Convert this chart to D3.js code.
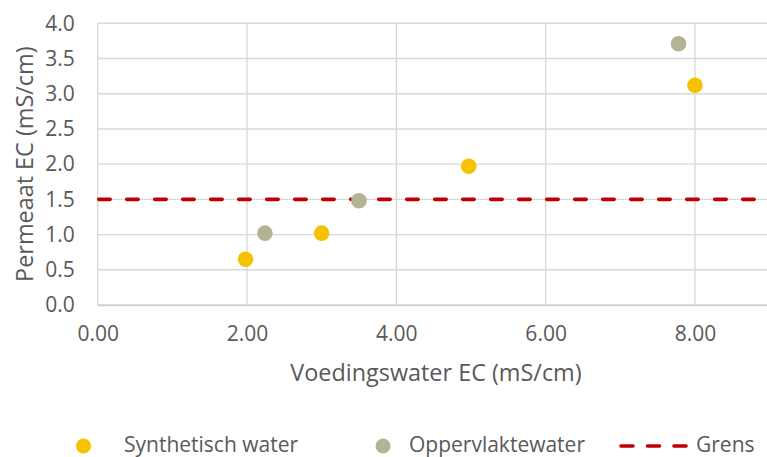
<!DOCTYPE html>
<html>
<head>
<meta charset="utf-8">
<script src="https://cdn.jsdelivr.net/npm/d3@7"></script>
<style>
  body { margin: 0; background: #fff; }
  text { font-family: "Open Sans", sans-serif; fill: #595959; }
</style>
</head>
<body>
<div id="chart"></div>
<script>
// data
var synthX = [1.98, 3.00, 4.97, 8.00],
    synthY = [0.65, 1.02, 1.97, 3.12];
var surfX = [2.24, 3.50, 7.78],
    surfY = [1.02, 1.48, 3.71];
var grensX = [0, 9],
    grensY = [1.5, 1.5];
var xTicks = [0, 2, 4, 6, 8],
    yTicks = [0, 0.5, 1, 1.5, 2, 2.5, 3, 3.5, 4];
var seriesNames = ["Synthetisch water", "Oppervlaktewater", "Grens"];

var width = 767, height = 457,
    margin = { top: 23.3, right: -2.6, bottom: 152, left: 97.7 };

var svg = d3.select("#chart").append("svg")
    .attr("width", width)
    .attr("height", height);

var x = d3.scaleLinear().domain([0, 9]).range([margin.left, width - margin.right]),
    y = d3.scaleLinear().domain([0, 4]).range([height - margin.bottom, margin.top]);

var yellow = "#F6C200", grey = "#B4B494", red = "#C00000";

// gridlines
svg.append("g").selectAll("line").data(yTicks).enter().append("line")
    .attr("x1", x(0)).attr("x2", x(9))
    .attr("y1", d => y(d)).attr("y2", d => y(d))
    .attr("stroke", "#d9d9d9").attr("stroke-width", 1.4);

svg.append("g").selectAll("line").data(xTicks).enter().append("line")
    .attr("x1", d => x(d)).attr("x2", d => x(d))
    .attr("y1", y(0)).attr("y2", y(4))
    .attr("stroke", "#d9d9d9").attr("stroke-width", 1.4);

// axes (labels only)
var xAxis = svg.append("g")
    .attr("transform", "translate(0," + y(0) + ")")
    .call(d3.axisBottom(x).tickValues(xTicks).tickFormat(d3.format(".2f")).tickSize(0).tickPadding(21));
xAxis.select(".domain").attr("stroke", "#d0d0d0").attr("stroke-width", 1.6);
xAxis.selectAll("text").style("font-size", "21px").attr("fill", "#595959");

var yAxis = svg.append("g")
    .attr("transform", "translate(" + x(0) + ",0)")
    .call(d3.axisLeft(y).tickValues(yTicks).tickFormat(d3.format(".1f")).tickSize(0).tickPadding(23));
yAxis.select(".domain").remove();
yAxis.selectAll("text").style("font-size", "21px").attr("fill", "#595959");

// axis titles
svg.append("text")
    .attr("x", 436)
    .attr("y", 381)
    .attr("text-anchor", "middle")
    .style("font-size", "23.4px")
    .text("Voedingswater EC (mS/cm)");

svg.append("text")
    .attr("transform", "translate(33," + ((y(0) + y(4)) / 2) + ") rotate(-90)")
    .attr("text-anchor", "middle")
    .style("font-size", "23.4px")
    .text("Permeaat EC (mS/cm)");

// grens line
var line = d3.line().x(d => x(d[0])).y(d => y(d[1]));
svg.append("path")
    .datum(d3.zip(grensX, grensY))
    .attr("d", line)
    .attr("fill", "none")
    .attr("stroke", red)
    .attr("stroke-width", 3.6)
    .attr("stroke-linecap", "round")
    .attr("stroke-dasharray", "11.5,16.5")
    .attr("transform", "translate(1,0)");

// points
svg.append("g").selectAll("circle").data(d3.zip(synthX, synthY)).enter().append("circle")
    .attr("cx", d => x(d[0])).attr("cy", d => y(d[1])).attr("r", 7.8)
    .attr("fill", yellow);

svg.append("g").selectAll("circle").data(d3.zip(surfX, surfY)).enter().append("circle")
    .attr("cx", d => x(d[0])).attr("cy", d => y(d[1])).attr("r", 7.8)
    .attr("fill", grey);

// legend
var leg = svg.append("g");
leg.append("circle").attr("cx", 83.5).attr("cy", 446).attr("r", 7.5).attr("fill", yellow);
leg.append("text").attr("x", 124).attr("y", 451.5).style("font-size", "21px").text(seriesNames[0]);
leg.append("circle").attr("cx", 383).attr("cy", 446).attr("r", 7.5).attr("fill", grey);
leg.append("text").attr("x", 409).attr("y", 451.5).style("font-size", "21px").text(seriesNames[1]);
leg.append("line")
    .attr("x1", 621).attr("x2", 690).attr("y1", 446).attr("y2", 446)
    .attr("stroke", red).attr("stroke-width", 3.6)
    .attr("stroke-linecap", "round")
    .attr("stroke-dasharray", "12,14.5");
leg.append("text").attr("x", 696).attr("y", 451.5).style("font-size", "21px").text(seriesNames[2]);
</script>
</body>
</html>
